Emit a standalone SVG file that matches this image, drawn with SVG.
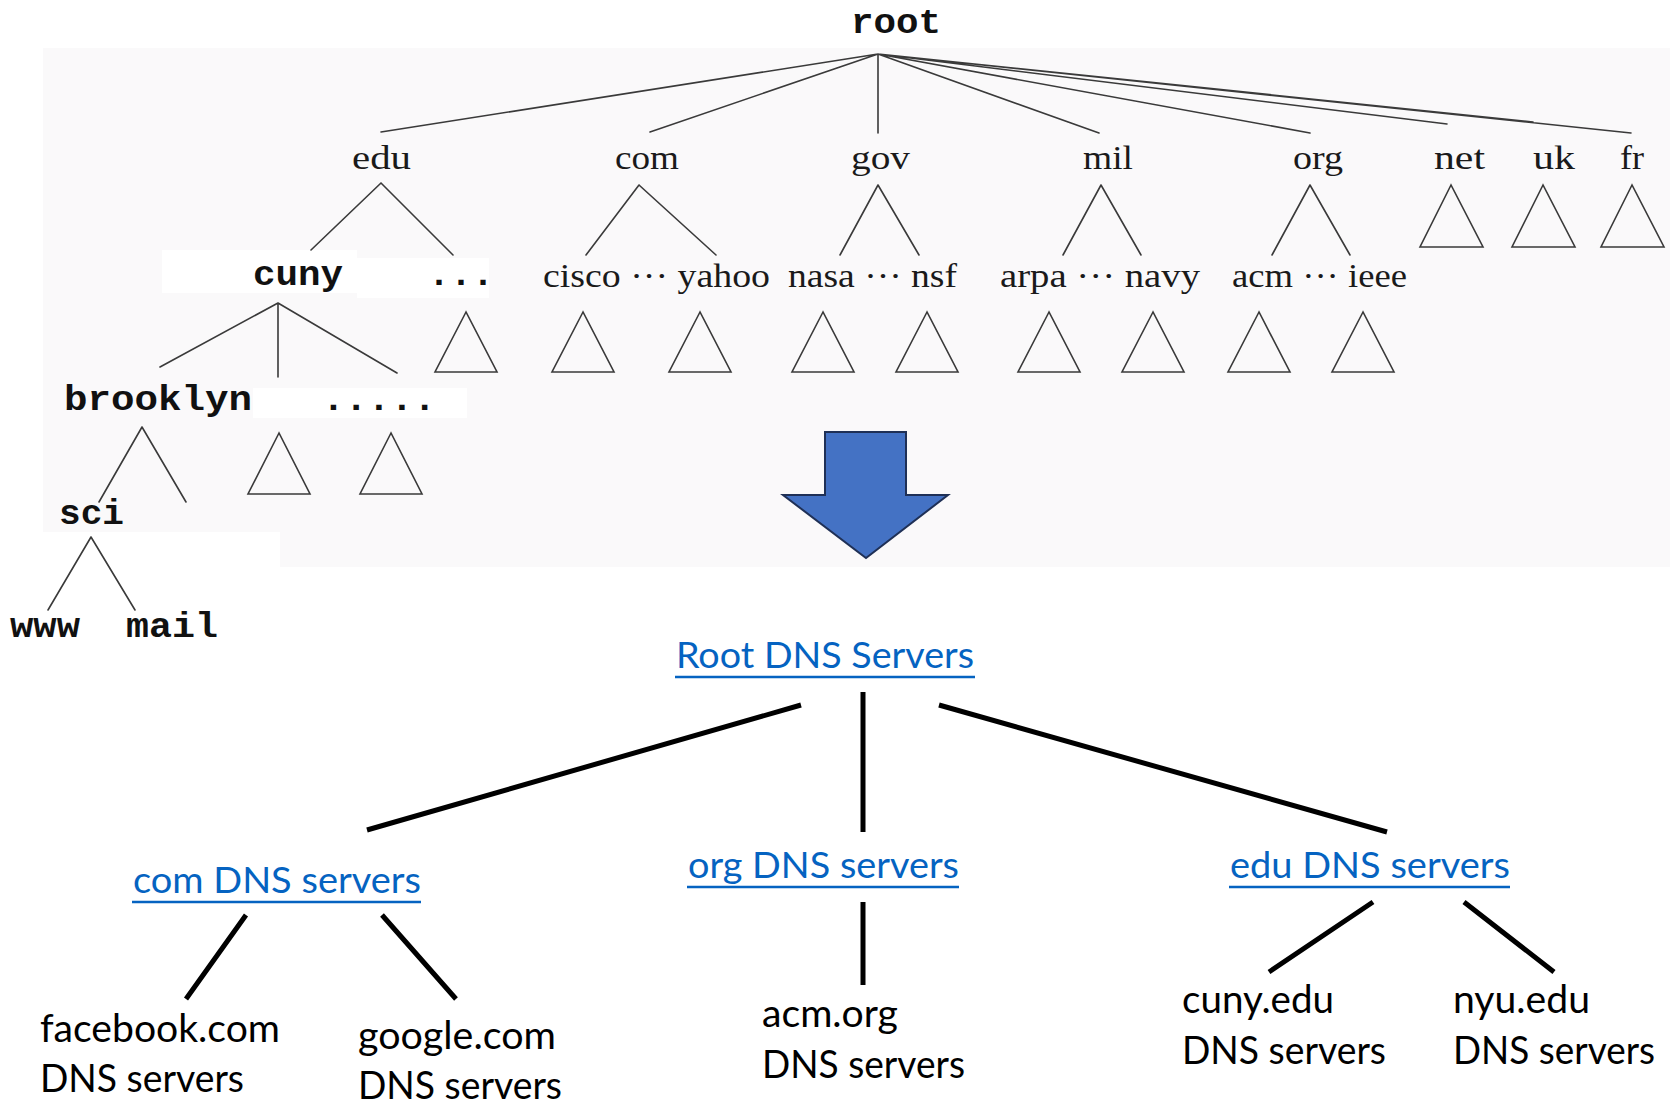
<svg xmlns="http://www.w3.org/2000/svg" width="1670" height="1103" viewBox="0 0 1670 1103">
<style>
.mono{font-family:"Liberation Mono","DejaVu Sans Mono",monospace;font-weight:bold;font-size:35px;fill:#111}
.serif{font-family:"Liberation Serif","DejaVu Serif",serif;font-size:34px;fill:#1a1a1a}
.tl{stroke:#3a3a3a;stroke-width:1.6;fill:none;stroke-linecap:round}
.tri{stroke:#3a3a3a;stroke-width:1.6;fill:none;stroke-linejoin:miter}
.blue{font-family:Lato,"Open Sans","Liberation Sans",sans-serif;font-size:37px;fill:#0563C1}
.ul{stroke:#0563C1;stroke-width:2.5}
.blk{font-family:Lato,"Open Sans","Liberation Sans",sans-serif;font-size:38px;fill:#000}
.bl{stroke:#000;stroke-width:5;fill:none}
</style>
<rect width="1670" height="1103" fill="#fff"/>
<g id="background">
<rect x="43" y="48" width="1627" height="519" fill="#faf9fa"/>
<rect x="162" y="250" width="195" height="43" fill="#fff"/>
<rect x="357" y="258" width="132" height="40" fill="#fff"/>
<rect x="253" y="388" width="214" height="30" fill="#fff"/>
<rect x="43" y="532" width="237" height="35" fill="#fff"/>
</g>
<g id="connectors">
<g id="tree-lines">
<path class="tl" d="M878,54 L381,132 M878,54 L650,132 M878,54 L878,133 M878,54 L1099,133 M878,54 L1310,133 M878,54 L1447,124 M878,54 L1533,122 M878,54 L1631,133"/>
<path class="tl" d="M381,183 L311,250 M381,183 L453,255 M639,185 L586,255 M639,185 L716,255 M878,185 L840,255 M878,185 L919,255 M1101,185 L1063,255 M1101,185 L1141,255 M1310,185 L1272,255 M1310,185 L1350,255"/>
<path class="tl" d="M278,303 L160,367 M278,303 L278,377 M278,303 L397,373 M142,427 L99,502 M142,427 L186,502 M91,537 L48,610 M91,537 L135,610"/>
</g>
<g id="subtrees">
<polygon class="tri" points="1451,185 1420,247 1483,247"/>
<polygon class="tri" points="1543,185 1512,247 1575,247"/>
<polygon class="tri" points="1632,185 1601,247 1664,247"/>
<polygon class="tri" points="466,312 435,372 497,372"/>
<polygon class="tri" points="583,312 552,372 614,372"/>
<polygon class="tri" points="700,312 669,372 731,372"/>
<polygon class="tri" points="823,312 792,372 854,372"/>
<polygon class="tri" points="927,312 896,372 958,372"/>
<polygon class="tri" points="1049,312 1018,372 1080,372"/>
<polygon class="tri" points="1153,312 1122,372 1184,372"/>
<polygon class="tri" points="1259,312 1228,372 1290,372"/>
<polygon class="tri" points="1363,312 1332,372 1394,372"/>
<polygon class="tri" points="279,433 248,494 310,494"/>
<polygon class="tri" points="391,433 360,494 422,494"/>
</g>
<g id="dns-lines">
<path class="bl" d="M801,705 L367,830 M863,692 L863,832 M939,705 L1387,832"/>
<path class="bl" d="M246,915 L186,999 M382,915 L456,999 M863,902 L863,985 M1373,902 L1269,972 M1464,902 L1554,972"/>
</g>
</g>
<g id="n-root"><text class="mono" x="851" y="33" textLength="90" lengthAdjust="spacingAndGlyphs">root</text></g>
<g id="n-edu"><text class="serif" x="352" y="169" textLength="59" lengthAdjust="spacingAndGlyphs">edu</text></g>
<g id="n-com"><text class="serif" x="615" y="169" textLength="64" lengthAdjust="spacingAndGlyphs">com</text></g>
<g id="n-gov"><text class="serif" x="851" y="169" textLength="59" lengthAdjust="spacingAndGlyphs">gov</text></g>
<g id="n-mil"><text class="serif" x="1083" y="169" textLength="50" lengthAdjust="spacingAndGlyphs">mil</text></g>
<g id="n-org"><text class="serif" x="1293" y="169" textLength="50" lengthAdjust="spacingAndGlyphs">org</text></g>
<g id="n-net"><text class="serif" x="1434" y="169" textLength="51" lengthAdjust="spacingAndGlyphs">net</text></g>
<g id="n-uk"><text class="serif" x="1533" y="169" textLength="42" lengthAdjust="spacingAndGlyphs">uk</text></g>
<g id="n-fr"><text class="serif" x="1620" y="169" textLength="24" lengthAdjust="spacingAndGlyphs">fr</text></g>
<g id="n-cisco-yahoo"><text class="serif" x="543" y="287" textLength="227" lengthAdjust="spacingAndGlyphs">cisco ··· yahoo</text></g>
<g id="n-nasa-nsf"><text class="serif" x="788" y="287" textLength="169" lengthAdjust="spacingAndGlyphs">nasa ··· nsf</text></g>
<g id="n-arpa-navy"><text class="serif" x="1000" y="287" textLength="200" lengthAdjust="spacingAndGlyphs">arpa ··· navy</text></g>
<g id="n-acm-ieee"><text class="serif" x="1232" y="287" textLength="175" lengthAdjust="spacingAndGlyphs">acm ··· ieee</text></g>
<g id="n-cuny"><text class="mono" x="253" y="285" textLength="90" lengthAdjust="spacingAndGlyphs">cuny</text></g>
<g id="n-dots1"><text class="mono" x="428" y="285" textLength="66" lengthAdjust="spacingAndGlyphs">...</text></g>
<g id="n-brooklyn"><text class="mono" x="64" y="410" textLength="188" lengthAdjust="spacingAndGlyphs">brooklyn</text></g>
<g id="n-dots2"><text class="mono" x="322" y="410" textLength="114" lengthAdjust="spacingAndGlyphs">.....</text></g>
<g id="n-sci"><text class="mono" x="59" y="524" textLength="65" lengthAdjust="spacingAndGlyphs">sci</text></g>
<g id="n-www"><text class="mono" x="10" y="637" textLength="70" lengthAdjust="spacingAndGlyphs">www</text></g>
<g id="n-mail"><text class="mono" x="126" y="637" textLength="92" lengthAdjust="spacingAndGlyphs">mail</text></g>
<g id="arrow"><polygon points="825,432 906,432 906,495 948,495 866,558 783,495 825,495" fill="#4472C4" stroke="#1F3056" stroke-width="2"/></g>
<g id="n-root-dns"><text class="blue" x="676" y="668" textLength="298" lengthAdjust="spacingAndGlyphs">Root DNS Servers</text><line class="ul" x1="675" y1="677" x2="975" y2="677"/></g>
<g id="n-com-dns"><text class="blue" x="133" y="893" textLength="288" lengthAdjust="spacingAndGlyphs">com DNS servers</text><line class="ul" x1="132" y1="902" x2="421" y2="902"/></g>
<g id="n-org-dns"><text class="blue" x="688" y="878" textLength="271" lengthAdjust="spacingAndGlyphs">org DNS servers</text><line class="ul" x1="687" y1="887" x2="959" y2="887"/></g>
<g id="n-edu-dns"><text class="blue" x="1230" y="878" textLength="280" lengthAdjust="spacingAndGlyphs">edu DNS servers</text><line class="ul" x1="1229" y1="887" x2="1510" y2="887"/></g>
<g id="n-facebook"><text class="blk" x="40" y="1042" textLength="240" lengthAdjust="spacingAndGlyphs">facebook.com</text><text class="blk" x="40" y="1092" textLength="204" lengthAdjust="spacingAndGlyphs">DNS servers</text></g>
<g id="n-google"><text class="blk" x="358" y="1049" textLength="198" lengthAdjust="spacingAndGlyphs">google.com</text><text class="blk" x="358" y="1099" textLength="204" lengthAdjust="spacingAndGlyphs">DNS servers</text></g>
<g id="n-acm"><text class="blk" x="762" y="1027" textLength="136" lengthAdjust="spacingAndGlyphs">acm.org</text><text class="blk" x="762" y="1078" textLength="203" lengthAdjust="spacingAndGlyphs">DNS servers</text></g>
<g id="n-cuny-edu"><text class="blk" x="1182" y="1013" textLength="152" lengthAdjust="spacingAndGlyphs">cuny.edu</text><text class="blk" x="1182" y="1064" textLength="204" lengthAdjust="spacingAndGlyphs">DNS servers</text></g>
<g id="n-nyu-edu"><text class="blk" x="1453" y="1013" textLength="137" lengthAdjust="spacingAndGlyphs">nyu.edu</text><text class="blk" x="1453" y="1064" textLength="202" lengthAdjust="spacingAndGlyphs">DNS servers</text></g>
</svg>
